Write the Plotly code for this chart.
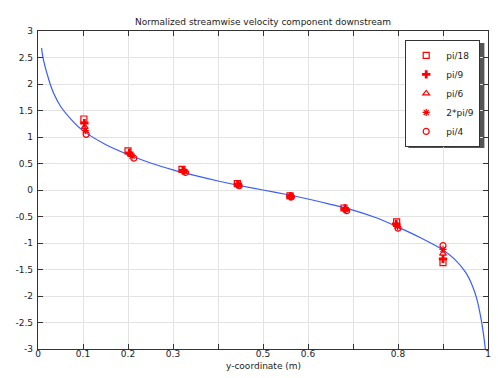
import plotly.graph_objects as go

# Analytical curve
curve_x = [0.008, 0.01, 0.015, 0.02, 0.027, 0.035, 0.05, 0.075, 0.1, 0.15, 0.2, 0.25, 0.3, 0.35, 0.4, 0.45, 0.5,
           0.55, 0.6, 0.65, 0.7, 0.75, 0.8, 0.85, 0.9, 0.925, 0.95, 0.965, 0.975, 0.985, 0.99, 0.994, 0.997]
curve_y = [2.68, 2.55, 2.35, 2.2, 2.0, 1.82, 1.58, 1.32, 1.12, 0.86, 0.67, 0.51, 0.38, 0.27, 0.17, 0.08, 0.0,
           -0.08, -0.17, -0.27, -0.38, -0.52, -0.70, -0.90, -1.13, -1.30, -1.55, -1.8, -2.05, -2.45, -2.72, -3.0, -3.3]

series_names = ["pi/18", "pi/9", "pi/6", "2*pi/9", "pi/4"]
series_x = [
    [0.102, 0.200, 0.320, 0.443, 0.560, 0.680, 0.797, 0.900],
    [0.103, 0.203, 0.322, 0.444, 0.561, 0.682, 0.796, 0.900],
    [0.104, 0.206, 0.324, 0.445, 0.561, 0.683, 0.797, 0.900],
    [0.105, 0.209, 0.326, 0.446, 0.562, 0.684, 0.799, 0.900],
    [0.107, 0.213, 0.328, 0.447, 0.563, 0.686, 0.800, 0.900],
]
series_y = [
    [1.34, 0.74, 0.39, 0.12, -0.11, -0.34, -0.60, -1.37],
    [1.26, 0.70, 0.37, 0.11, -0.12, -0.35, -0.64, -1.30],
    [1.19, 0.67, 0.36, 0.10, -0.12, -0.36, -0.66, -1.20],
    [1.12, 0.64, 0.35, 0.09, -0.12, -0.37, -0.69, -1.12],
    [1.05, 0.60, 0.33, 0.08, -0.13, -0.39, -0.72, -1.05],
]
symbols = ["square-open", "cross", "triangle-up-open", "asterisk-open", "circle-open"]

x_tickvals = [0, 0.1, 0.2, 0.3, 0.4, 0.5, 0.6, 0.7, 0.8, 0.9, 1.0]
x_ticktext = ["0", "0.1", "0.2", "0.3", "", "0.5", "0.6", "", "0.8", "", "1"]
y_tickvals = [-3, -2.5, -2, -1.5, -1, -0.5, 0, 0.5, 1, 1.5, 2, 2.5, 3]
y_ticktext = ["-3", "-2.5", "-2", "-1.5", "-1", "-0.5", "0", "0.5", "1", "1.5", "2", "2.5", "3"]

fig = go.Figure()
fig.add_trace(go.Scatter(x=curve_x, y=curve_y, mode="lines",
                         line=dict(color="#3a5cff", width=1.2, shape="spline", smoothing=0.8),
                         showlegend=False, hoverinfo="skip"))
for name, xs, ys, sym in zip(series_names, series_x, series_y, symbols):
    fig.add_trace(go.Scatter(x=xs, y=ys, mode="markers", name=name,
                             marker=dict(symbol=sym, size=6 if sym != "cross" else 7,
                                         color="#ff0000",
                                         line=dict(color="#ff0000", width=1.2 if sym != "cross" else 0))))

axis_common = dict(showline=True, linecolor="#333333", linewidth=1.2, mirror="ticks",
                   ticks="inside", ticklen=5, tickcolor="#333333", showgrid=True,
                   gridcolor="#e3e3e3", gridwidth=1, zeroline=False, automargin=False,
                   tickfont=dict(family="DejaVu Sans", size=9, color="#222222"))

fig.update_xaxes(range=[0, 1], tickvals=x_tickvals, ticktext=x_ticktext, ticklabelstandoff=-4,
                 **axis_common)
fig.update_yaxes(range=[-3, 3], tickvals=y_tickvals, ticktext=y_ticktext, ticklabelstandoff=2, **axis_common)

fig.add_annotation(text="y-coordinate (m)", xref="paper", yref="paper", x=0.5, y=-0.052,
                   xanchor="center", yanchor="middle", showarrow=False,
                   font=dict(family="DejaVu Sans", size=9, color="#222222"))

# legend shadow
fig.add_shape(type="rect", xref="paper", yref="paper", x0=0.823, x1=0.992, y0=0.632, y1=0.962,
              fillcolor="#555555", line=dict(width=0), layer="below")

fig.update_layout(
    width=498, height=378,
    margin=dict(l=38, r=10, t=31, b=29),
    paper_bgcolor="white", plot_bgcolor="white",
    title=dict(text="Normalized streamwise velocity component downstream",
               font=dict(family="DejaVu Sans", size=9, color="#222222"),
               x=0.5, xref="paper", y=0.942, yanchor="middle", automargin=False),
    legend=dict(x=0.816, y=0.972, xanchor="left", yanchor="top",
                bgcolor="white", bordercolor="#333333", borderwidth=1,
                font=dict(family="DejaVu Sans", size=9, color="#222222"),
                itemsizing="trace", itemwidth=30, tracegroupgap=0),
    showlegend=True,
)
fig.write_html("out.html", config={"displayModeBar": False},
               post_script="document.body.style.margin='0';")
